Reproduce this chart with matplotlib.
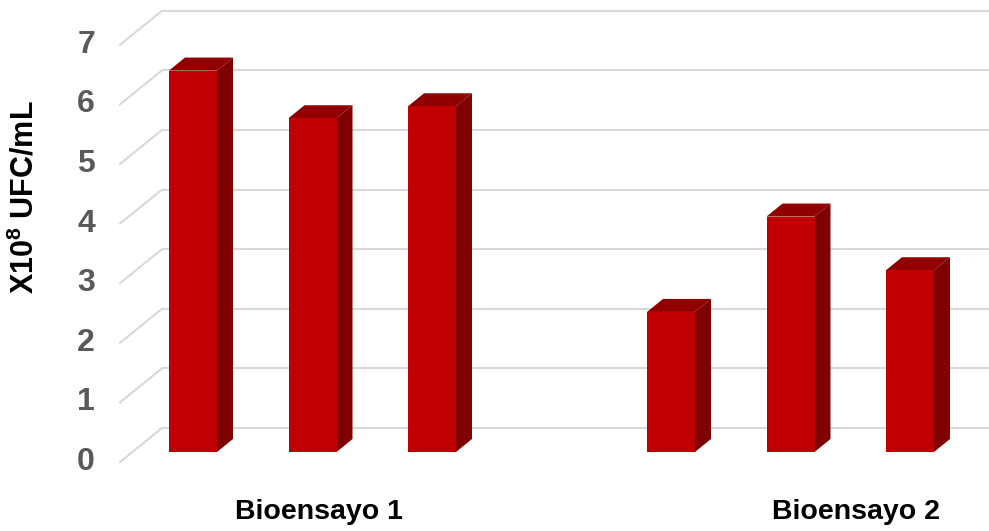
import matplotlib
matplotlib.use("Agg")
import matplotlib.pyplot as plt
from matplotlib.patches import Polygon, Rectangle

# ---- data ----
slots = [0, 1, 2, 4, 5, 6]
values = [6.4, 5.6, 5.8, 2.35, 3.95, 3.05]
yticks = [0, 1, 2, 3, 4, 5, 6, 7]
categories = ["Bioensayo 1", "Bioensayo 2"]
category_pos = [1.05, 5.55]
ylabel = r"X10$^{\mathbf{8}}$ UFC/mL"

# ---- style / geometry (pixel based) ----
W, H = 989, 531
PX_X = 119.5   # pixels per slot
PX_Y = 59.6    # pixels per unit
X0_PX = 193    # pixel of slot 0 center
Y0_PX = 452    # pixel of value 0 at bar front plane
bar_w = 48 / PX_X
bar_dx, bar_dy = 16 / PX_X, 13 / PX_Y
back_dx, back_dy = 29.6 / PX_X, 24 / PX_Y
front_dx, front_dy = -12.4 / PX_X, -10 / PX_Y
wall_x = (162 - 29.6 - X0_PX) / PX_X

FRONT = "#C00000"
SIDE = "#7F0000"
TOP = "#900000"
GRID = "#D9D9D9"

plt.rcParams['font.family'] = ['Liberation Sans', 'DejaVu Sans']
plt.rcParams['mathtext.fontset'] = 'custom'
plt.rcParams['mathtext.rm'] = 'Liberation Sans:bold'
plt.rcParams['mathtext.bf'] = 'Liberation Sans:bold'

fig = plt.figure(figsize=(W / 100, H / 100), dpi=100)
ax = fig.add_axes([0, 0, 1, 1])
ax.set_xlim(-X0_PX / PX_X, (W - X0_PX) / PX_X)
ax.set_ylim((Y0_PX - H) / PX_Y, Y0_PX / PX_Y)
ax.axis("off")

right_x = (W - X0_PX) / PX_X
for v in yticks:
    ax.plot([wall_x + back_dx, right_x], [v + back_dy, v + back_dy],
            color=GRID, lw=1.5, zorder=1, solid_capstyle="butt")
    ax.plot([wall_x + front_dx, wall_x + back_dx], [v + front_dy, v + back_dy],
            color=GRID, lw=1.5, zorder=1)
    ax.text(wall_x + front_dx - 25 / PX_X, v + front_dy, str(v),
            ha="right", va="center", fontsize=23, fontweight="bold", color="#595959")

for s, v in zip(slots, values):
    l, r = s - bar_w / 2, s + bar_w / 2
    ax.add_patch(Polygon([(r, 0), (r + bar_dx, bar_dy), (r + bar_dx, v + bar_dy), (r, v)],
                         closed=True, facecolor=SIDE, edgecolor="none", zorder=3))
    ax.add_patch(Polygon([(l, v), (l + bar_dx, v + bar_dy), (r + bar_dx, v + bar_dy), (r, v)],
                         closed=True, facecolor=TOP, edgecolor="none", zorder=3))
    ax.add_patch(Rectangle((l, 0), bar_w, v, facecolor=FRONT, edgecolor="none", zorder=4))

for c, p in zip(categories, category_pos):
    ax.text(p, (Y0_PX - 512) / PX_Y, c, ha="center", va="center",
            fontsize=20.5, fontweight="bold", color="black")

ax.text(-(X0_PX - 25) / PX_X, (Y0_PX - 197) / PX_Y, ylabel, rotation=90,
        ha="center", va="center", fontsize=22, fontweight="bold", color="black")

fig.savefig("out.png", dpi=100, facecolor="white")
